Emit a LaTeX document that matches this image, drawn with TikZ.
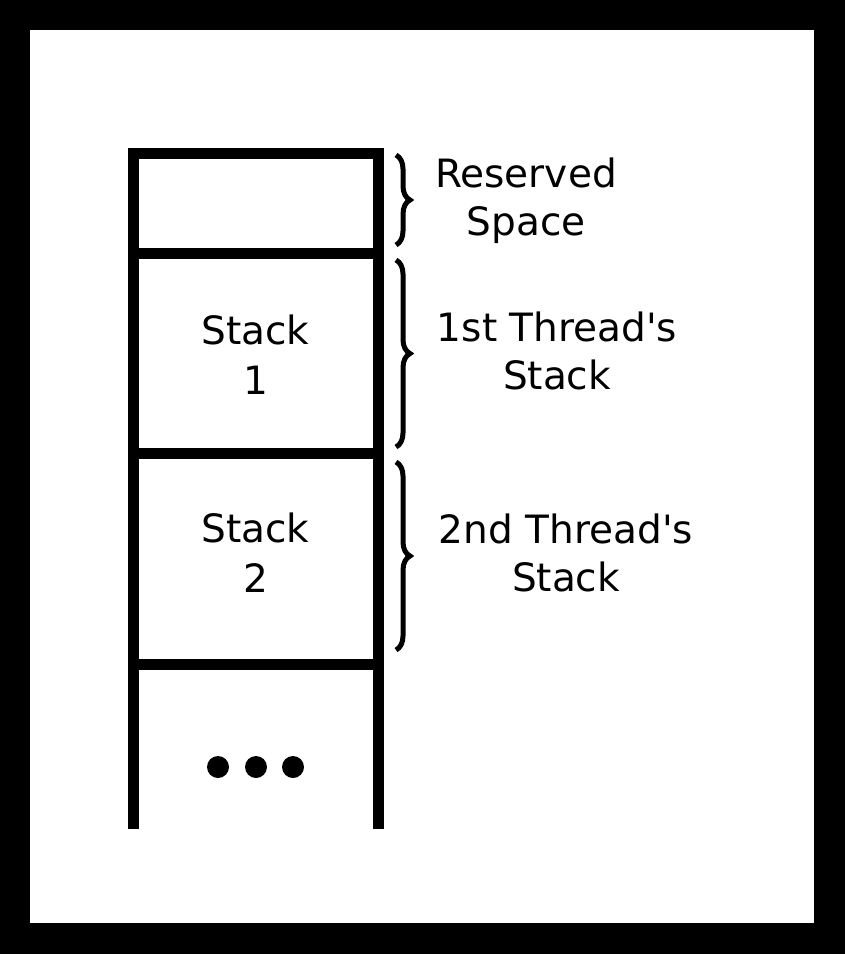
\documentclass[tikz,border=0pt]{standalone}
\usepackage{fontspec}
\setmainfont{DejaVu Sans}
\usetikzlibrary{decorations.pathreplacing}
\begin{document}
\begin{tikzpicture}[
        x=1pt, y=-1pt,
        wall/.style={line width=11pt},
        curly/.style={decorate, decoration={brace, amplitude=14pt}, line width=5pt},
        cell/.style={inner sep=0pt, align=center, font=\fontsize{39}{50}\selectfont},
        note/.style={inner sep=0pt, align=center, font=\fontsize{39}{48}\selectfont}
    ]

    % frame
    \useasboundingbox (0,0) rectangle (845,954);
    \fill[black] (0,0) rectangle (845,954);
    \fill[white] (30,30) rectangle (814,923);

    % memory column
    \coordinate (topL) at (133,153);
    \coordinate (topR) at (378,153);
    \coordinate (botL) at (133,829);
    \coordinate (botR) at (378,829);
    \coordinate (div1L) at (133,253);
    \coordinate (div1R) at (378,253);
    \coordinate (div2L) at (133,453);
    \coordinate (div2R) at (378,453);
    \coordinate (div3L) at (133,664);
    \coordinate (div3R) at (378,664);

    \draw[wall] (botL) -- (topL) -- (topR) -- (botR);
    \draw[wall] (div1L) -- (div1R);
    \draw[wall] (div2L) -- (div2R);
    \draw[wall] (div3L) -- (div3R);

    \node[cell] (stack1) at (255.5,355) {Stack\\1};
    \node[cell] (stack2) at (255.5,553) {Stack\\2};

    % more stacks below
    \foreach \x in {218,256,293}
        \fill (\x,767) circle (11);

    % braces and labels
    \coordinate (resTop) at (396,155);
    \coordinate (resBot) at (396,245);
    \coordinate (oneTop) at (396,260);
    \coordinate (oneBot) at (396,447);
    \coordinate (twoTop) at (396,462);
    \coordinate (twoBot) at (396,650);

    \draw[curly] (resTop) -- (resBot);
    \draw[curly] (oneTop) -- (oneBot);
    \draw[curly] (twoTop) -- (twoBot);

    \node[note] (reserved) at (526,201) {Reserved\\Space};
    \node[note] (thread1) at (557,351) {1st Thread\textquotesingle s\\Stack};
    \node[note] (thread2) at (566,553) {2nd Thread\textquotesingle s\\Stack};

\end{tikzpicture}
\end{document}
